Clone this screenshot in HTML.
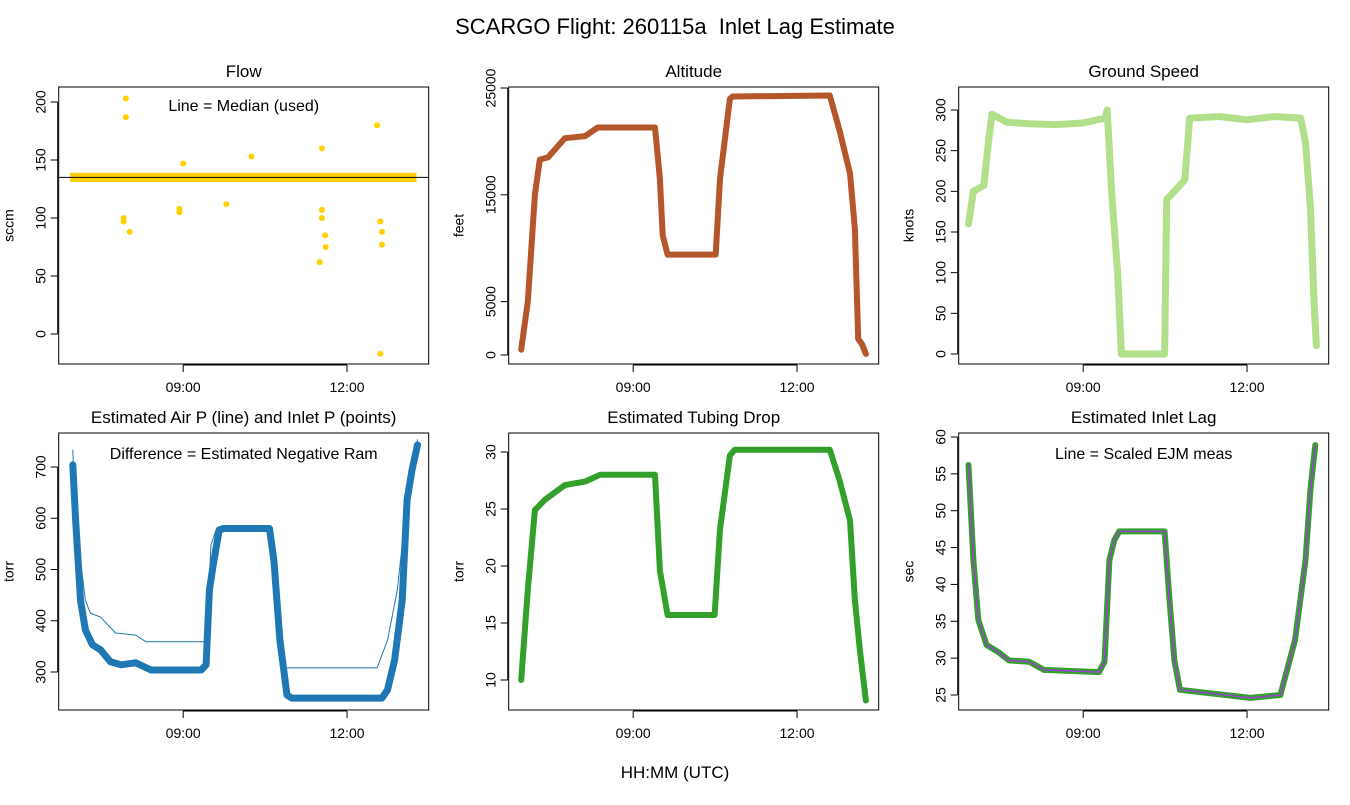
<!DOCTYPE html>
<html><head><meta charset="utf-8"><style>
body{margin:0;background:#fff}
svg text{font-family:"Liberation Sans",sans-serif;fill:#000}
</style></head><body>
<svg id="c" width="1350" height="800" xmlns="http://www.w3.org/2000/svg">
<text x="675" y="34" font-size="22" text-anchor="middle" style="white-space:pre">SCARGO Flight: 260115a  Inlet Lag Estimate</text>
<text x="675" y="778" font-size="17" text-anchor="middle">HH:MM (UTC)</text>
</svg>
<script>
// ---- data (time in decimal hours UTC) ----
const xTickLabels = ["09:00","12:00"];
const xTickHours = [9,12];
const flowTicks = [0,50,100,150,200];
const flowMedian = 135;
const flowBandLo = 131, flowBandHi = 139;
const flowBandStart = 6.93, flowBandEnd = 13.27;
const flowOutT = [7.95,7.95,7.91,7.91,8.02,8.93,8.93,9.0,9.79,10.25,11.54,11.54,11.54,11.60,11.61,11.50,12.55,12.61,12.64,12.64,12.61];
const flowOutV = [203,187,100,97,88,108,105,147,112,153,160,107,100,85,75,62,180,97,88,77,-17];
const altTicks = [0,5000,15000,25000];
const altT = [6.95,7.07,7.20,7.29,7.44,7.75,8.12,8.35,9.40,9.49,9.54,9.63,10.51,10.59,10.77,10.82,12.60,12.78,12.97,13.06,13.12,13.19,13.26];
const altV = [500,5000,15000,18300,18500,20300,20500,21300,21300,16500,11200,9400,9400,16500,24000,24200,24300,21000,17000,11800,1500,1000,100];
const gsTicks = [0,50,100,150,200,250,300];
const gsT = [6.90,6.99,7.18,7.27,7.33,7.6,8.0,8.5,9.0,9.40,9.44,9.52,9.63,9.70,10.49,10.53,10.67,10.86,10.95,11.5,12.0,12.5,12.98,13.07,13.16,13.23,13.27];
const gsV = [160,200,207,263,295,285,283,282,284,290,300,200,100,0,0,190,200,214,290,292,288,292,290,260,180,60,10];
const pTicks = [300,400,500,600,700];
const inletT = [6.98,7.03,7.12,7.21,7.34,7.49,7.67,7.86,8.13,8.41,9.33,9.42,9.48,9.55,9.66,9.74,10.58,10.66,10.77,10.90,10.99,12.64,12.74,12.87,13.01,13.10,13.19,13.29];
const inletV = [704,597,440,382,353,343,320,314,318,304,304,314,460,509,577,580,580,518,362,255,249,249,265,323,440,636,694,743];
const airT = [6.98,7.03,7.21,7.30,7.49,7.76,8.13,8.32,9.42,9.51,9.60,10.58,10.71,10.84,12.55,12.74,12.92,13.10,13.29];
const airV = [733,597,440,415,407,376,372,359,359,548,577,577,440,308,308,362,460,636,753];
const tubTicks = [10,15,20,25,30];
const tubT = [6.95,7.07,7.20,7.38,7.75,8.12,8.39,9.40,9.49,9.63,10.49,10.59,10.77,10.86,12.60,12.78,12.97,13.06,13.15,13.26];
const tubV = [10,17.9,24.9,25.8,27.1,27.4,28,28,19.6,15.7,15.7,23.2,29.7,30.2,30.2,27.5,24,17,12.6,8.2];
const lagTicks = [25,30,35,40,45,50,55,60];
const lagT = [6.90,6.99,7.08,7.23,7.45,7.64,8.01,8.28,9.29,9.39,9.48,9.57,9.66,10.49,10.58,10.67,10.77,12.06,12.61,12.88,13.07,13.16,13.25];
const lagV = [56.2,43.3,35.2,31.8,30.8,29.7,29.5,28.4,28.1,29.5,43.3,46,47.2,47.2,37.9,29.7,25.7,24.6,25,32.5,43.3,52.8,58.9];

const NS="http://www.w3.org/2000/svg";
const svg=document.getElementById('c');
function mk(tag,attrs,parent){const e=document.createElementNS(NS,tag);for(const k in attrs)e.setAttribute(k,attrs[k]);(parent||svg).appendChild(e);return e;}
const T0=6.721, T1=13.495;
let clipN=0;
function panel(name,left,top,title,ylab,ticks,v0,y0,v1,y1){
  const w=370,h=277;
  const g=mk('g',{});
  
  
  const xs=t=>left+(t-T0)/(T1-T0)*w;
  const ys=v=>y0+(v-v0)*(y1-y0)/(v1-v0);
  const id='cl'+(clipN++);
  const cp=mk('clipPath',{id:id},g);mk('rect',{x:left,y:top,width:w,height:h},cp);
  const data=mk('g',{'clip-path':'url(#'+id+')'},g);
  const box=mk('rect',{x:left,y:top,width:w,height:h,fill:'none',stroke:'#000','stroke-width':1},g);
  
  
  const tt=mk('text',{x:left+w/2,y:top-10,'font-size':17,'text-anchor':'middle'},g);tt.textContent=title;
  
  
  const yl=mk('text',{transform:`translate(${left-45},${top+h/2}) rotate(-90)`,'font-size':14,'text-anchor':'middle'},g);yl.textContent=ylab;
  
  
  const ya=mk('g',{},g);
  
  
  mk('line',{x1:left-1,x2:left-1,y1:ys(ticks[0]),y2:ys(ticks[ticks.length-1]),stroke:'#000'},ya);
  ticks.forEach(v=>{const y=ys(v);mk('line',{x1:left-8,x2:left-1,y1:y,y2:y,stroke:'#000'},ya);
    const t=mk('text',{transform:`translate(${left-13},${y}) rotate(-90)`,'font-size':14,'text-anchor':'middle'},ya);t.textContent=v;});
  const xa=mk('g',{},g);
  
  
  mk('line',{x1:xs(xTickHours[0]),x2:xs(xTickHours[xTickHours.length-1]),y1:top+h+1,y2:top+h+1,stroke:'#000'},xa);
  xTickHours.forEach((hh,i)=>{const x=xs(hh);mk('line',{x1:x,x2:x,y1:top+h+1,y2:top+h+8,stroke:'#000'},xa);
    const t=mk('text',{x:x,y:top+h+28,'font-size':14,'text-anchor':'middle'},xa);t.textContent=xTickLabels[i];});
  return {xs,ys,data,g,left,top,w,h};
}
function poly(p,T,V,color,width,name){
  const pts=T.map((t,i)=>p.xs(t).toFixed(1)+','+p.ys(V[i]).toFixed(1)).join(' ');
  const e=mk('polyline',{points:pts,fill:'none',stroke:color,'stroke-width':width,'stroke-linejoin':'round','stroke-linecap':'round'},p.data);
  
  
}
function note(p,txt,name,yoff){
  const t=mk('text',{x:p.left+p.w/2,y:p.top+yoff,'font-size':16,'text-anchor':'middle'},p.g);t.textContent=txt;
  
  
}
// Flow
const p1=panel('flow',58.7,87,'Flow','sccm',flowTicks,0,334,200,102);
const band=mk('rect',{x:p1.xs(flowBandStart),y:p1.ys(flowBandHi),width:p1.xs(flowBandEnd)-p1.xs(flowBandStart),height:p1.ys(flowBandLo)-p1.ys(flowBandHi),fill:'#FFD000'},p1.data);


flowOutT.forEach((t,i)=>{const c=mk('circle',{cx:p1.xs(t),cy:p1.ys(flowOutV[i]),r:3,fill:'#FFD000'},p1.data);
  
  });
const ml=mk('line',{x1:p1.left,x2:p1.left+p1.w,y1:p1.ys(flowMedian),y2:p1.ys(flowMedian),stroke:'#000','stroke-width':1},p1.data);


note(p1,'Line = Median (used)','flow-legend',24);
// Altitude
const p2=panel('altitude',508.7,87,'Altitude','feet',altTicks,0,355,25000,88);
poly(p2,altT,altV,'#B5562B',6,'altitude-line');
// Ground speed
const p3=panel('ground-speed',958.7,87,'Ground Speed','knots',gsTicks,0,354,300,110);
poly(p3,gsT,gsV,'#B2DF8A',7,'ground-speed-line');
// Air P
const p4=panel('pressure',58.7,433,'Estimated Air P (line) and Inlet P (points)','torr',pTicks,300,672,700,467);
poly(p4,inletT,inletV,'#1F78B4',7,'inlet-p-points');
poly(p4,airT,airV,'#1F78B4',1,'air-p-line');
note(p4,'Difference = Estimated Negative Ram','pressure-legend',26);
// Tubing
const p5=panel('tubing-drop',508.7,433,'Estimated Tubing Drop','torr',tubTicks,10,680,30,452);
poly(p5,tubT,tubV,'#33A02C',6,'tubing-drop-line');
// Lag
const p6=panel('inlet-lag',958.7,433,'Estimated Inlet Lag','sec',lagTicks,25,695,60,437);
poly(p6,lagT,lagV,'#33A02C',6,'inlet-lag-points');
poly(p6,lagT,lagV,'#9E3ED8',1.5,'scaled-ejm-line');
note(p6,'Line = Scaled EJM meas','lag-legend',26);
</script>
</body></html>
